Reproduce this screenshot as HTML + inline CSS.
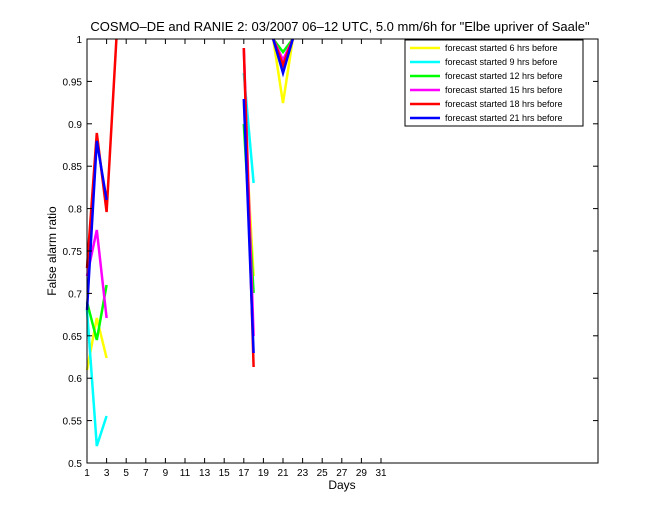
<!DOCTYPE html>
<html><head><style>body{margin:0;background:#fff}svg{display:block;font-family:"Liberation Sans",sans-serif}</style></head><body>
<svg width="660" height="520" xmlns="http://www.w3.org/2000/svg">
<rect width="660" height="520" fill="#fff"/>
<text x="340" y="31" font-size="13" text-anchor="middle">COSMO–DE and RANIE 2: 03/2007 06–12 UTC, 5.0 mm/6h for "Elbe upriver of Saale"</text>
<g fill="none" stroke-width="2.5">
<polyline stroke="#ff0" points="87,370 96.8,318 106.6,358"/>
<polyline stroke="#ff0" points="243.8,102 253.6,276"/>
<polyline stroke="#ff0" points="273.2,39 283,103 292.8,39"/>
<polyline stroke="#0ff" points="87,310 96.8,446 106.6,416"/>
<polyline stroke="#0ff" points="243.8,73 253.6,183"/>
<polyline stroke="#0ff" points="273.2,39 283,64 292.8,39"/>
<polyline stroke="#0f0" points="87,302 96.8,340 106.6,285"/>
<polyline stroke="#0f0" points="243.8,124 253.6,293"/>
<polyline stroke="#0f0" points="273.2,39 283,52 292.8,39"/>
<polyline stroke="#f0f" points="87,276 96.8,230 106.6,318"/>
<polyline stroke="#f0f" points="243.8,48 253.6,336"/>
<polyline stroke="#f0f" points="273.2,39 283,60 292.8,39"/>
<polyline stroke="#f00" points="87,268 96.8,133 106.6,212 116.4,39"/>
<polyline stroke="#f00" points="243.8,48 253.6,367"/>
<polyline stroke="#f00" points="273.2,39 283,65 292.8,39"/>
<polyline stroke="#00f" points="87,310 96.8,141 106.6,200"/>
<polyline stroke="#00f" points="243.8,99 253.6,353"/>
<polyline stroke="#00f" points="273.2,39 283,73 292.8,39"/>
</g>
<rect x="87" y="39" width="511" height="424" fill="none" stroke="#000"/>
<g stroke="#000" id="t"></g>
<g font-size="10" text-anchor="middle" id="xl"></g>
<g font-size="10" text-anchor="end" id="yl"></g>
<text x="342" y="489" font-size="12" text-anchor="middle">Days</text>
<text transform="translate(56,251) rotate(-90)" font-size="12" text-anchor="middle">False alarm ratio</text>
<rect x="405" y="40" width="178" height="86" fill="#fff" stroke="#000"/>
<g font-size="9" stroke-width="2.5">
<line x1="410" y1="48" x2="440" y2="48" stroke="#ff0"/><text x="445" y="51">forecast started 6 hrs before</text>
<line x1="410" y1="62" x2="440" y2="62" stroke="#0ff"/><text x="445" y="65">forecast started 9 hrs before</text>
<line x1="410" y1="76" x2="440" y2="76" stroke="#0f0"/><text x="445" y="79">forecast started 12 hrs before</text>
<line x1="410" y1="90" x2="440" y2="90" stroke="#f0f"/><text x="445" y="93">forecast started 15 hrs before</text>
<line x1="410" y1="104" x2="440" y2="104" stroke="#f00"/><text x="445" y="107">forecast started 18 hrs before</text>
<line x1="410" y1="118" x2="440" y2="118" stroke="#00f"/><text x="445" y="121">forecast started 21 hrs before</text>
</g>
<script>
var ns="http://www.w3.org/2000/svg",t=document.getElementById("t"),xl=document.getElementById("xl"),yl=document.getElementById("yl");
function el(p,n,a,tx){var e=document.createElementNS(ns,n);for(var k in a)e.setAttribute(k,a[k]);if(tx)e.textContent=tx;p.appendChild(e);}
for(var d=1;d<=31;d+=2){var x=87+(d-1)*9.8;el(t,"line",{x1:x,y1:463,x2:x,y2:458});el(t,"line",{x1:x,y1:39,x2:x,y2:44});el(xl,"text",{x:x,y:476},""+d);}
for(var i=0;i<=10;i++){var v=0.5+i*0.05,y=463-i*42.4;el(t,"line",{x1:87,y1:y,x2:92,y2:y});el(t,"line",{x1:598,y1:y,x2:593,y2:y});var s=(i==0?"0.5":i==10?"1":v.toFixed(2).replace(/0$/,""));el(yl,"text",{x:82,y:y+4},s);}
</script>
</svg>
</body></html>
